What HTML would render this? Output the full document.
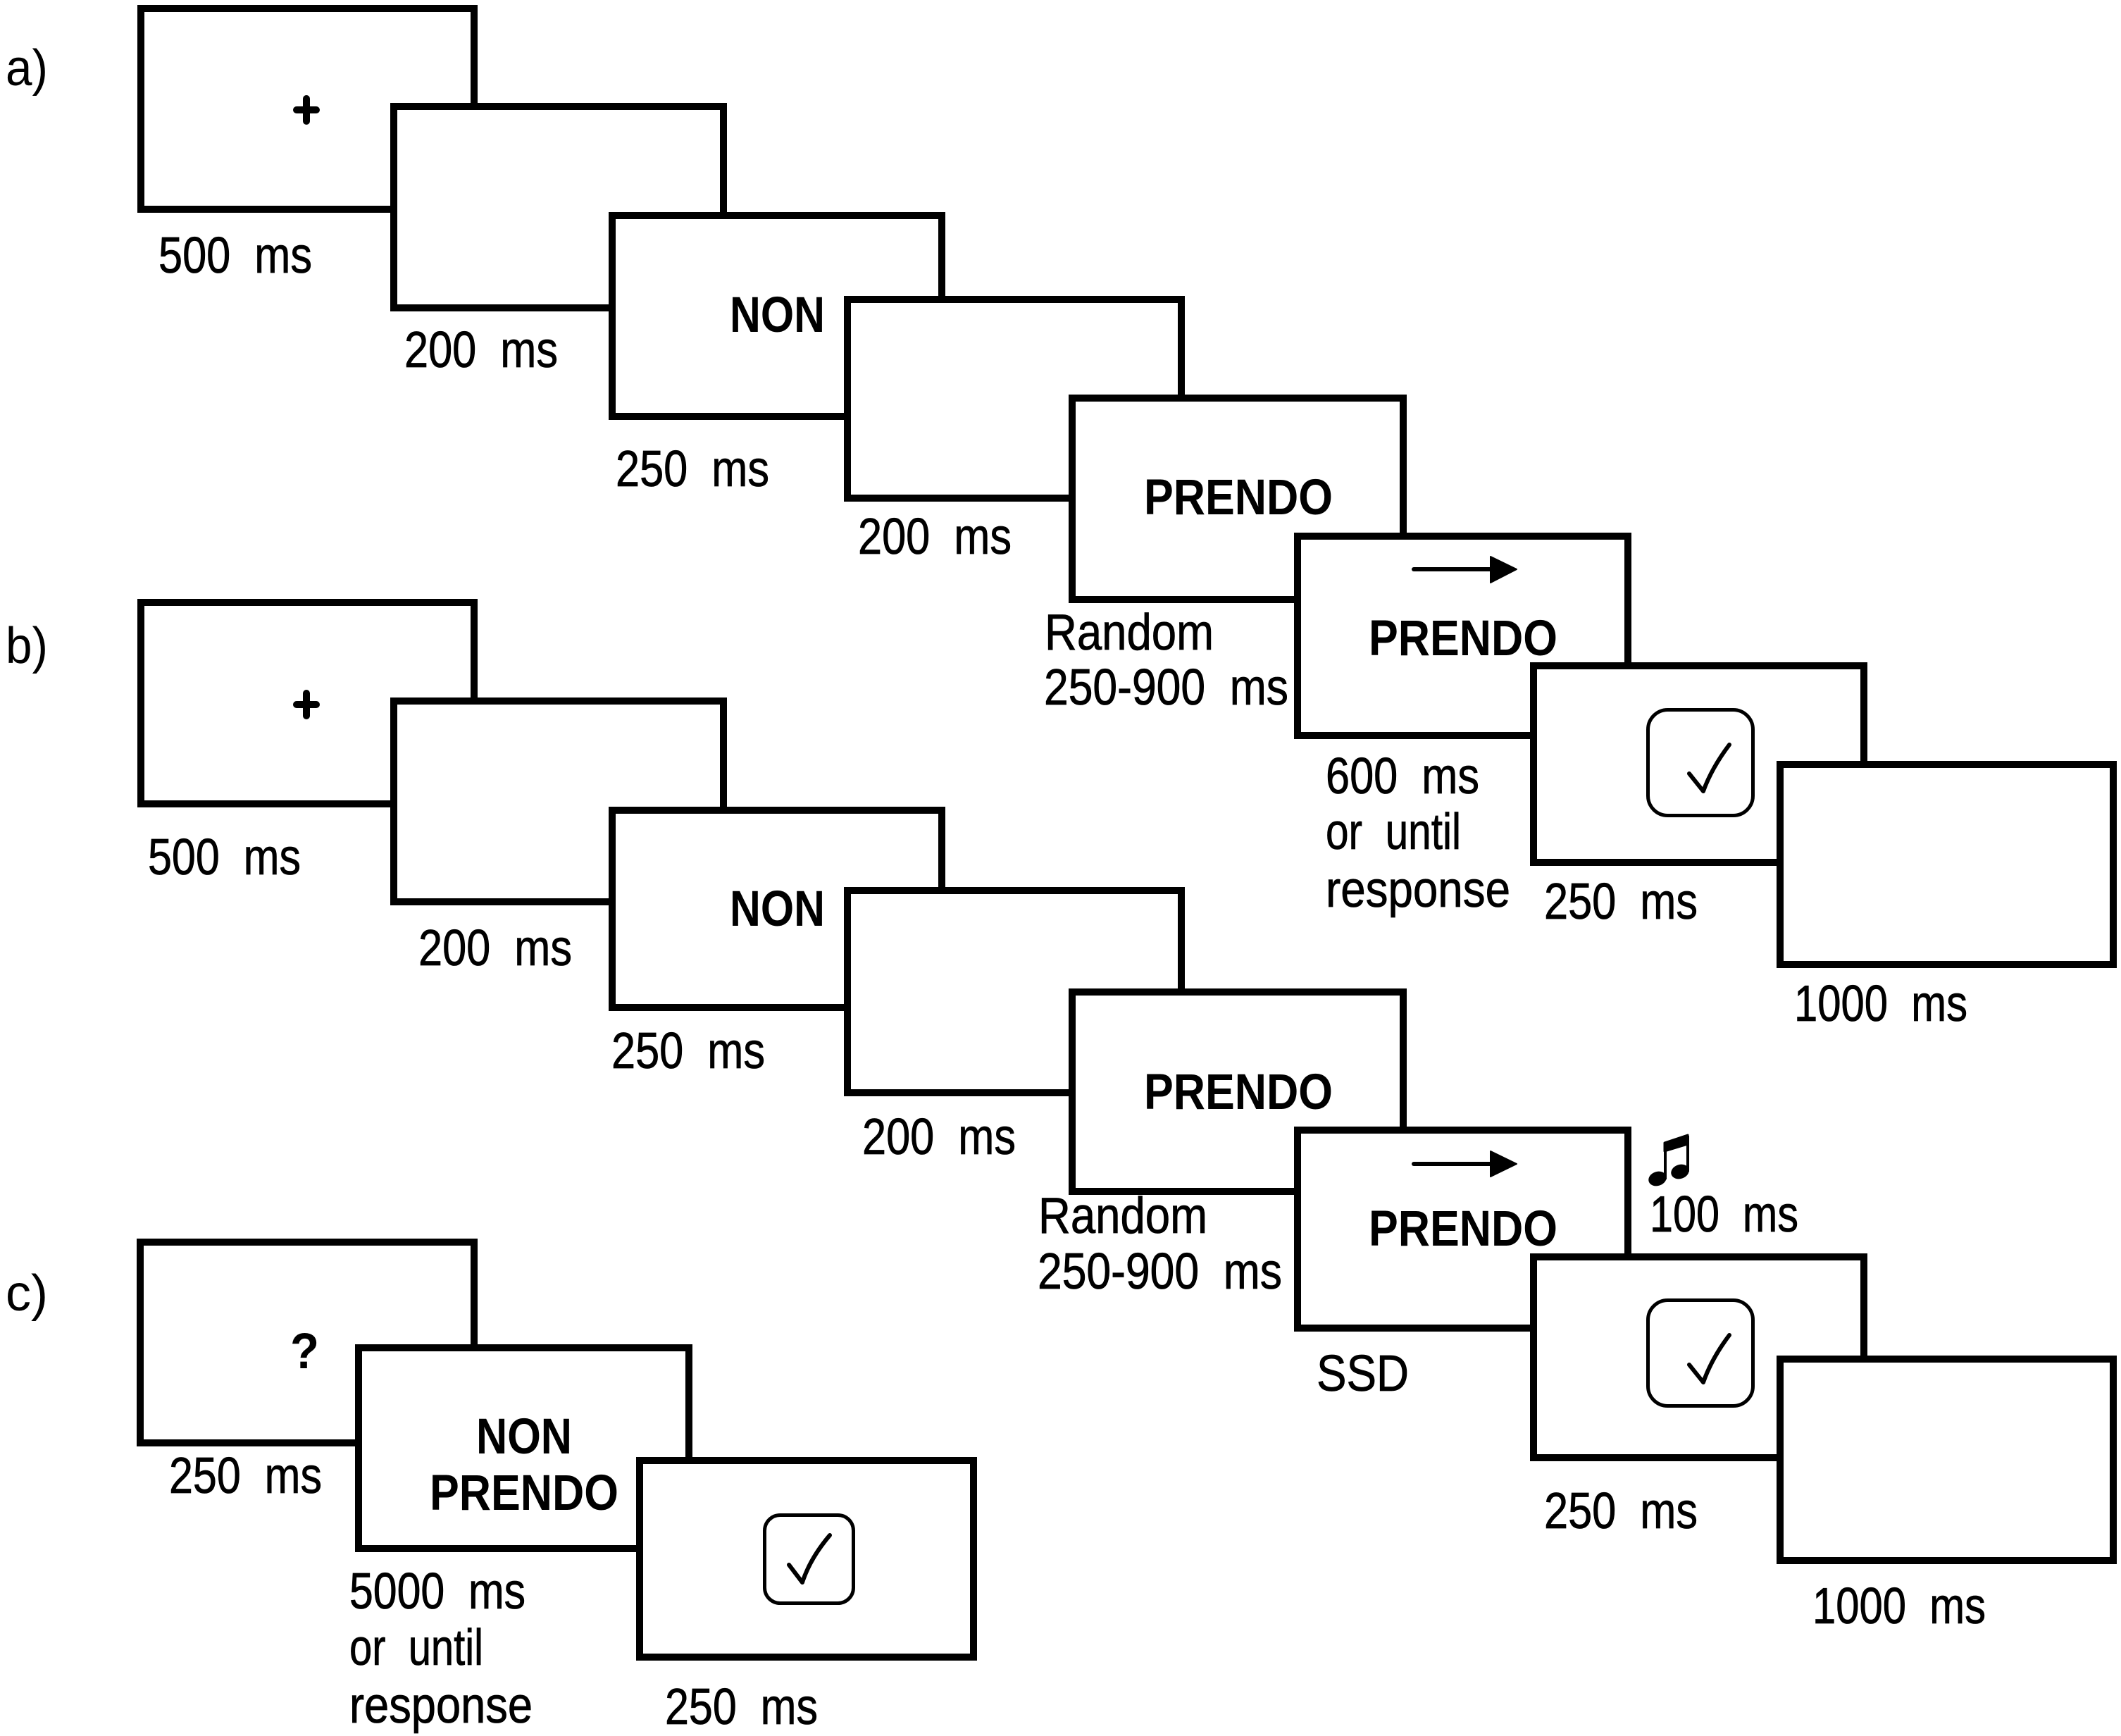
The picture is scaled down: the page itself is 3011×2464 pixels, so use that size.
<!DOCTYPE html>
<html><head><meta charset="utf-8">
<style>
html,body{margin:0;padding:0;background:#fff;width:3011px;height:2464px;overflow:hidden}
svg{display:block}
text{font-family:"Liberation Sans",sans-serif;fill:#000}
.l{font-size:72px;word-spacing:20px;stroke:#000;stroke-width:.8px}
.b{font-size:71px;font-weight:bold}
.p{font-size:72px}
rect.s{fill:#fff;stroke:#000;stroke-width:10}
rect.c{fill:#fff;stroke:#000;stroke-width:5}
path.k{fill:none;stroke:#000;stroke-width:6;stroke-linecap:round;stroke-linejoin:round}
</style></head><body>
<svg xmlns="http://www.w3.org/2000/svg" width="3011" height="2464" viewBox="0 0 3011 2464">
<rect width="3011" height="2464" fill="#fff"/>

<!-- panel a -->
<rect class="s" x="200" y="12" width="473" height="285"/>
<rect class="s" x="559" y="151" width="468" height="286"/>
<rect class="s" x="869" y="306" width="468" height="285"/>
<rect class="s" x="1203" y="425" width="474" height="282"/>
<rect class="s" x="1522" y="565" width="470" height="286"/>
<rect class="s" x="1842" y="761" width="469" height="283"/>
<rect class="s" x="2177" y="945" width="469" height="279"/>
<rect class="s" x="2527" y="1085" width="473" height="284"/>

<!-- panel b -->
<rect class="s" x="200" y="855" width="473" height="286"/>
<rect class="s" x="559" y="995" width="468" height="285"/>
<rect class="s" x="869" y="1150" width="468" height="280"/>
<rect class="s" x="1203" y="1264" width="474" height="287"/>
<rect class="s" x="1522" y="1408" width="470" height="283"/>
<rect class="s" x="1842" y="1604" width="469" height="281"/>
<rect class="s" x="2177" y="1784" width="469" height="285"/>
<rect class="s" x="2527" y="1929" width="473" height="286"/>

<!-- panel c -->
<rect class="s" x="199" y="1763" width="474" height="285"/>
<rect class="s" x="509" y="1913" width="469" height="285"/>
<rect class="s" x="908" y="2073" width="474" height="279"/>

<!-- panel letters -->
<text class="p" x="8" y="121" textLength="60" lengthAdjust="spacingAndGlyphs">a)</text>
<text class="p" x="8" y="941" textLength="60" lengthAdjust="spacingAndGlyphs">b)</text>
<text class="p" x="8" y="1860" textLength="60" lengthAdjust="spacingAndGlyphs">c)</text>

<!-- plus signs -->
<path d="M435 140V172M421 156H449" stroke="#000" stroke-width="10" stroke-linecap="round" fill="none"/>
<path d="M435 984V1016M421 1000H449" stroke="#000" stroke-width="10" stroke-linecap="round" fill="none"/>
<text class="b" x="412" y="1942" textLength="41" lengthAdjust="spacingAndGlyphs">?</text>

<!-- a labels -->
<text class="l" x="225" y="387" textLength="218" lengthAdjust="spacingAndGlyphs">500 ms</text>
<text class="l" x="574" y="521" textLength="218" lengthAdjust="spacingAndGlyphs">200 ms</text>
<text class="l" x="874" y="690" textLength="218" lengthAdjust="spacingAndGlyphs">250 ms</text>
<text class="l" x="1218" y="786" textLength="218" lengthAdjust="spacingAndGlyphs">200 ms</text>
<text class="l" x="1483" y="922" textLength="240" lengthAdjust="spacingAndGlyphs">Random</text>
<text class="l" x="1482" y="1000" textLength="347" lengthAdjust="spacingAndGlyphs">250-900 ms</text>
<text class="l" x="1882" y="1126" textLength="218" lengthAdjust="spacingAndGlyphs">600 ms</text>
<text class="l" x="1882" y="1205" textLength="192" lengthAdjust="spacingAndGlyphs">or until</text>
<text class="l" x="1882" y="1287" textLength="262" lengthAdjust="spacingAndGlyphs">response</text>
<text class="l" x="2192" y="1304" textLength="218" lengthAdjust="spacingAndGlyphs">250 ms</text>
<text class="l" x="2547" y="1449" textLength="246" lengthAdjust="spacingAndGlyphs">1000 ms</text>

<text class="b" x="1036" y="471" textLength="135" lengthAdjust="spacingAndGlyphs">NON</text>
<text class="b" x="1624" y="730" textLength="268" lengthAdjust="spacingAndGlyphs">PRENDO</text>
<text class="b" x="1943" y="930" textLength="268" lengthAdjust="spacingAndGlyphs">PRENDO</text>

<!-- b labels -->
<text class="l" x="210" y="1241" textLength="217" lengthAdjust="spacingAndGlyphs">500 ms</text>
<text class="l" x="594" y="1370" textLength="218" lengthAdjust="spacingAndGlyphs">200 ms</text>
<text class="l" x="868" y="1516" textLength="218" lengthAdjust="spacingAndGlyphs">250 ms</text>
<text class="l" x="1224" y="1638" textLength="218" lengthAdjust="spacingAndGlyphs">200 ms</text>
<text class="l" x="1474" y="1750" textLength="240" lengthAdjust="spacingAndGlyphs">Random</text>
<text class="l" x="1473" y="1829" textLength="347" lengthAdjust="spacingAndGlyphs">250-900 ms</text>
<text class="l" x="1869" y="1974" textLength="131" lengthAdjust="spacingAndGlyphs">SSD</text>
<text class="l" x="2342" y="1748" textLength="211" lengthAdjust="spacingAndGlyphs">100 ms</text>
<text class="l" x="2192" y="2169" textLength="218" lengthAdjust="spacingAndGlyphs">250 ms</text>
<text class="l" x="2573" y="2304" textLength="246" lengthAdjust="spacingAndGlyphs">1000 ms</text>

<text class="b" x="1036" y="1314" textLength="135" lengthAdjust="spacingAndGlyphs">NON</text>
<text class="b" x="1624" y="1574" textLength="268" lengthAdjust="spacingAndGlyphs">PRENDO</text>
<text class="b" x="1943" y="1768" textLength="268" lengthAdjust="spacingAndGlyphs">PRENDO</text>

<!-- c labels -->
<text class="l" x="240" y="2119" textLength="217" lengthAdjust="spacingAndGlyphs">250 ms</text>
<text class="l" x="496" y="2283" textLength="250" lengthAdjust="spacingAndGlyphs">5000 ms</text>
<text class="l" x="496" y="2363" textLength="190" lengthAdjust="spacingAndGlyphs">or until</text>
<text class="l" x="496" y="2445" textLength="260" lengthAdjust="spacingAndGlyphs">response</text>
<text class="l" x="944" y="2447" textLength="217" lengthAdjust="spacingAndGlyphs">250 ms</text>
<text class="b" x="676" y="2063" textLength="136" lengthAdjust="spacingAndGlyphs">NON</text>
<text class="b" x="610" y="2143" textLength="268" lengthAdjust="spacingAndGlyphs">PRENDO</text>

<!-- arrows -->
<path d="M2007 808H2120" stroke="#000" stroke-width="6" stroke-linecap="round"/>
<path d="M2116 790L2153 808L2116 827Z" fill="#000" stroke="#000" stroke-width="2" stroke-linejoin="round"/>
<path d="M2007 1652H2120" stroke="#000" stroke-width="6" stroke-linecap="round"/>
<path d="M2116 1634L2153 1652L2116 1670Z" fill="#000" stroke="#000" stroke-width="2" stroke-linejoin="round"/>

<!-- check boxes -->
<rect class="c" x="2339.500" y="1007.500" width="149" height="150" rx="28"/>
<path class="k" d="M2398 1098L2418 1123Q2430 1090 2455 1057"/>
<rect class="c" x="2339.500" y="1845.500" width="149" height="150" rx="28"/>
<path class="k" d="M2398 1937L2418 1962Q2430 1928 2455 1895"/>
<rect class="c" x="1085.500" y="2150.500" width="126" height="125" rx="22"/>
<path class="k" d="M1120 2221L1139 2246Q1150 2212 1178 2179"/>

<!-- music note -->
<path d="M2363 1622L2396 1611V1624L2363 1634Z" fill="#000" stroke="#000" stroke-width="3" stroke-linejoin="round"/>
<path d="M2364 1625V1674M2396 1612V1663" stroke="#000" stroke-width="4" fill="none"/>
<ellipse cx="2353" cy="1673" rx="13" ry="10" transform="rotate(-18 2353 1673)" fill="#000"/>
<ellipse cx="2385" cy="1663" rx="13" ry="10" transform="rotate(-18 2385 1663)" fill="#000"/>
</svg>
</body></html>
